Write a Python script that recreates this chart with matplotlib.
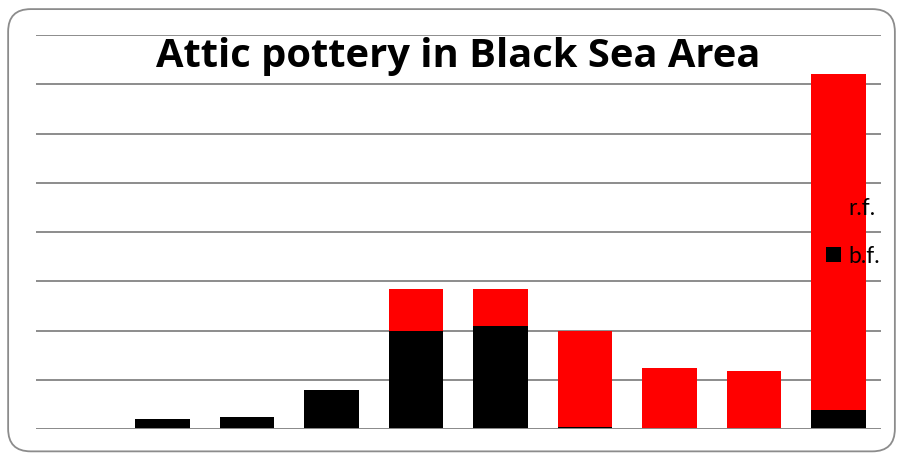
import numpy as np
import matplotlib.pyplot as plt
from matplotlib.patches import FancyBboxPatch

# values, in gridline units
cats = np.arange(10)
bf = [0, 0.2, 0.24, 0.79, 2.0, 2.09, 0.04, 0, 0, 0.39]
rf = [0, 0, 0, 0, 0.85, 0.76, 1.96, 1.25, 1.19, 6.81]

plt.rcParams['font.family'] = ['Lato', 'DejaVu Sans']

fig = plt.figure(figsize=(9.03, 4.55), dpi=100)
fig.patches.append(FancyBboxPatch((0.009, 0.008), 0.982, 0.972,
                                  boxstyle="round,pad=0,rounding_size=0.025",
                                  transform=fig.transFigure, fc="white",
                                  ec="#8c8c8c", lw=1.3, mutation_aspect=1.98,
                                  zorder=-10))

ax = fig.add_axes([0.0395, 0.0565, 0.9361, 0.8665])
ax.set_facecolor("none")
b1 = ax.bar(cats, bf, width=0.645, color="black", zorder=3)
b2 = ax.bar(cats, rf, bottom=bf, width=0.645, color="#ff0000", zorder=3)

ax.set_xlim(-0.5, 9.5)
ax.set_ylim(0, 8)
ax.set_yticks(np.arange(0, 9))
ax.yaxis.grid(True, color="#8c8c8c", lw=1.4)
ax.set_axisbelow(True)
ax.tick_params(length=0, labelleft=False, labelbottom=False)
for s in ax.spines.values():
    s.set_visible(False)
ax.axhline(0, color="#8c8c8c", lw=1.4, zorder=4)

fig.text(0.507, 0.876, "Attic pottery in Black Sea Area", ha="center",
         va="center", fontsize=28.7, fontweight="bold", family="Open Sans")

ax.legend([b2, b1], ["r.f.", "b.f."], loc="center left",
          bbox_to_anchor=(0.9147, 0.489), bbox_transform=fig.transFigure,
          frameon=False, labelspacing=1.15, handlelength=0.66,
          handleheight=0.66, handletextpad=0.3, borderpad=0,
          borderaxespad=0, prop={"family": "Lato", "size": 16.5})

fig.savefig("out.png", dpi=100)
